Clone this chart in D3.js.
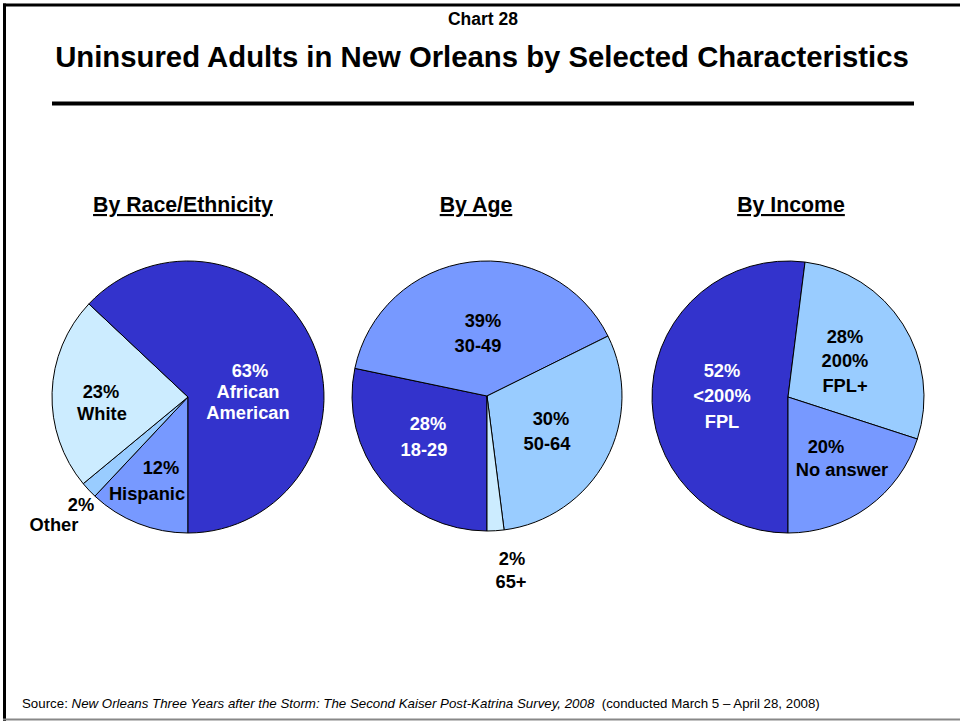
<!DOCTYPE html>
<html>
<head>
<meta charset="utf-8">
<script src="https://cdn.jsdelivr.net/npm/d3@7"></script>
<style>
  html, body { margin: 0; padding: 0; background: #fff; }
  svg { display: block; }
  text { font-family: "Liberation Sans", Arial, Helvetica, sans-serif; }
</style>
</head>
<body>
<svg id="chart" width="960" height="721"></svg>
<script>
// ---- data ----
const chartNumber = "Chart 28";
const chartTitle = "Uninsured Adults in New Orleans by Selected Characteristics";
const panelTitles = ["By Race/Ethnicity", "By Age", "By Income"];

const raceCategories = ["Hispanic", "Other", "White", "African American"];
const raceValues = [12, 2, 23, 63];
const raceLabelLines = [["Hispanic"], ["Other"], ["White"], ["African", "American"]];

const ageCategories = ["18-29", "30-49", "50-64", "65+"];
const ageValues = [28, 39, 30, 2];
const ageLabelLines = [["18-29"], ["30-49"], ["50-64"], ["65+"]];

const incomeCategories = ["<200% FPL", "200% FPL+", "No answer"];
const incomeValues = [52, 28, 20];
const incomeLabelLines = [["<200%", "FPL"], ["200%", "FPL+"], ["No answer"]];

// ---- styles / layout ----
const C_DARK = "#3333CC", C_MED = "#7799FF", C_LIGHT = "#99CCFF", C_PALE = "#CCECFF";

const panels = [
  { cats: raceCategories, vals: raceValues, lines: raceLabelLines,
    cx: 188, cy: 397, r: 136, titleX: 183,
    colors: [C_MED, C_LIGHT, C_PALE, C_DARK],
    textColors: ["#000", "#000", "#000", "#fff"],
    // per label: [x of value line, baseline, x of name line, baseline of name lines, line step]
    labels: [[161, 474, 147, 500, 21], [81, 511, 54, 531, 21], [101, 398, 102, 420, 21], [250, 377, 248, 398, 21]] },
  { cats: ageCategories, vals: ageValues, lines: ageLabelLines,
    cx: 487, cy: 396, r: 135, titleX: 476,
    colors: [C_DARK, C_MED, C_LIGHT, C_PALE],
    textColors: ["#fff", "#000", "#000", "#000"],
    labels: [[428, 430, 424, 456, 25], [483, 327, 478, 352, 25], [551, 425, 547, 450, 25], [512, 565, 511, 588, 25]] },
  { cats: incomeCategories, vals: incomeValues, lines: incomeLabelLines,
    cx: 788, cy: 397, r: 136, titleX: 791,
    colors: [C_DARK, C_LIGHT, C_MED],
    textColors: ["#fff", "#000", "#000"],
    labels: [[722, 377, 722, 402, 26], [845, 343, 845, 367, 25], [826, 453, 842, 476, 25]] }
];

const svg = d3.select("#chart");

// page frame
svg.append("line").attr("x1", 3).attr("x2", 960).attr("y1", 5).attr("y2", 5)
  .attr("stroke", "#000").attr("stroke-width", 3);
svg.append("line").attr("x1", 4.5).attr("x2", 4.5).attr("y1", 3.5).attr("y2", 721)
  .attr("stroke", "#000").attr("stroke-width", 3);
svg.append("line").attr("x1", 3).attr("x2", 960).attr("y1", 719.5).attr("y2", 719.5)
  .attr("stroke", "#888").attr("stroke-width", 2);

// headings
svg.append("text").attr("x", 483).attr("y", 25).attr("text-anchor", "middle")
  .attr("font-size", 17.5).attr("font-weight", "bold").text(chartNumber);
svg.append("text").attr("x", 482).attr("y", 67).attr("text-anchor", "middle")
  .attr("font-size", 29.3).attr("font-weight", "bold").text(chartTitle);
svg.append("line").attr("x1", 52).attr("x2", 914).attr("y1", 103.5).attr("y2", 103.5)
  .attr("stroke", "#000").attr("stroke-width", 4);

const pie = d3.pie().sort(null).startAngle(Math.PI).endAngle(3 * Math.PI);

panels.forEach((p, i) => {
  svg.append("text").attr("x", p.titleX).attr("y", 212).attr("text-anchor", "middle")
    .attr("font-size", 21.3).attr("font-weight", "bold")
    .attr("text-decoration", "underline").text(panelTitles[i]);

  const arc = d3.arc().innerRadius(0).outerRadius(p.r);
  const g = svg.append("g").attr("transform", `translate(${p.cx},${p.cy})`);
  const arcs = pie(p.vals);
  g.selectAll("path").data(arcs).join("path")
    .attr("d", arc)
    .attr("fill", (d, j) => p.colors[j])
    .attr("stroke", "#000").attr("stroke-width", 1).attr("stroke-linejoin", "round");

  arcs.forEach((d, j) => {
    const L = p.labels[j];
    const col = p.textColors[j];
    svg.append("text").attr("x", L[0]).attr("y", L[1]).attr("text-anchor", "middle")
      .attr("font-size", 18.3).attr("font-weight", "bold").attr("fill", col)
      .text(p.vals[j] + "%");
    p.lines[j].forEach((ln, k) => {
      svg.append("text").attr("x", L[2]).attr("y", L[3] + k * L[4]).attr("text-anchor", "middle")
        .attr("font-size", 18.3).attr("font-weight", "bold").attr("fill", col)
        .text(ln);
    });
  });
});

// source
const src = svg.append("text").attr("x", 22).attr("y", 708).attr("font-size", 13.3).attr("fill", "#000");
src.append("tspan").text("Source: ");
src.append("tspan").attr("font-style", "italic")
  .text("New Orleans Three Years after the Storm: The Second Kaiser Post-Katrina Survey, 2008");
src.append("tspan").text("\u00a0 (conducted March 5 \u2013 April 28, 2008)");
</script>
</body>
</html>
